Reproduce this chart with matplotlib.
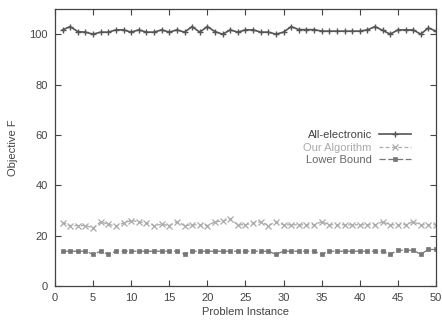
import matplotlib
matplotlib.use("Agg")
import matplotlib.pyplot as plt

instances = list(range(1, 51))
all_electronic = [101.7, 103.0, 101.0, 100.8, 100.0, 100.8, 100.8, 101.7, 101.7, 100.8,
                  101.7, 100.8, 100.8, 101.7, 100.8, 101.7, 100.8, 103.0, 100.8, 103.0,
                  101.0, 100.0, 101.7, 100.8, 101.7, 101.7, 100.8, 100.8, 100.0, 100.8,
                  103.0, 101.8, 101.8, 101.8, 101.2, 101.2, 101.2, 101.2, 101.2, 101.2,
                  101.7, 103.0, 101.5, 100.0, 101.7, 101.7, 101.7, 100.0, 102.5, 101.2]
our_algorithm = [25.2, 24.0, 24.0, 24.0, 23.0, 25.5, 24.5, 23.8, 25.0, 26.0,
                 25.5, 25.0, 24.0, 24.5, 24.0, 25.5, 24.0, 24.3, 24.3, 24.0,
                 25.5, 25.8, 26.6, 24.3, 24.3, 25.0, 25.5, 24.0, 25.5, 24.3,
                 24.3, 24.3, 24.3, 24.3, 25.5, 24.3, 24.3, 24.3, 24.3, 24.3,
                 24.3, 24.3, 25.5, 24.3, 24.3, 24.3, 25.5, 24.3, 24.3, 24.3]
lower_bound = [13.8, 13.8, 13.8, 13.8, 12.6, 13.8, 12.6, 13.8, 13.8, 13.8,
               13.8, 13.8, 13.8, 13.8, 13.8, 13.8, 12.6, 13.8, 13.8, 13.8,
               13.8, 13.8, 13.8, 13.8, 13.8, 13.8, 13.8, 13.8, 12.6, 13.8,
               13.8, 13.8, 13.8, 13.8, 12.6, 13.8, 13.8, 13.8, 13.8, 13.8,
               13.8, 13.8, 13.8, 12.6, 14.2, 14.2, 14.2, 12.6, 14.5, 14.5]

xticks = list(range(0, 51, 5))
yticks = list(range(0, 101, 20))

plt.rcParams['font.family'] = ['Liberation Sans', 'DejaVu Sans']
fig = plt.figure(figsize=(4.42, 3.24), dpi=100)
ax = fig.add_axes([0.1244, 0.1173, 0.862, 0.855])

ax.plot(instances, all_electronic, color='#555555', lw=1.2, ls='-',
        marker='+', ms=5, mew=1.0, label='All-electronic')
ax.plot(instances, our_algorithm, color='#aaaaaa', lw=0.9, ls=(0, (3, 2)),
        marker='x', ms=4, mew=0.9, label='Our Algorithm')
ax.plot(instances, lower_bound, color='#777777', lw=0.9, ls=(0, (5, 2)),
        marker='s', ms=3.5, mew=0.5, label='Lower Bound')

ax.set_xlim(0, 50)
ax.set_ylim(0, 110)
ax.set_xticks(xticks)
ax.set_yticks(yticks)
ax.tick_params(direction='in', top=True, right=True, length=4, width=0.8,
               labelsize=8, colors='#444444', pad=5)
for s in ax.spines.values():
    s.set_color('#444444')
    s.set_linewidth(0.9)

ax.set_xlabel('Problem Instance', fontsize=8, color='#444444', labelpad=3)
ax.set_ylabel('Objective F', fontsize=8, color='#444444', labelpad=8)

leg = ax.legend(loc='upper right', bbox_to_anchor=(0.96, 0.60), frameon=False,
                markerfirst=False, fontsize=8, handlelength=2.9,
                handletextpad=0.6, labelspacing=0.25)
for t, c in zip(leg.get_texts(), ['#444444', '#aaaaaa', '#666666']):
    t.set_color(c)

fig.savefig('out.png', dpi=100)
